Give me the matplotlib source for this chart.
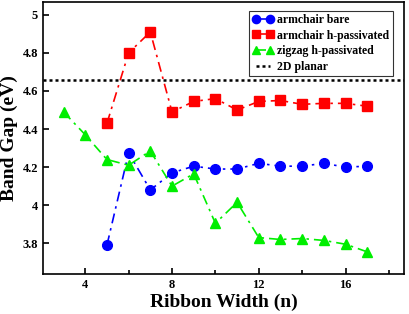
import matplotlib
matplotlib.use("Agg")
import matplotlib.pyplot as plt
from matplotlib.ticker import MultipleLocator

# 数据
n_armchair = [5, 6, 7, 8, 9, 10, 11, 12, 13, 14, 15, 16, 17]
armchair_bare = [3.79, 4.275, 4.08, 4.17, 4.205, 4.19, 4.19, 4.22, 4.205, 4.205, 4.22, 4.20, 4.205]
armchair_h = [4.43, 4.80, 4.91, 4.49, 4.545, 4.56, 4.50, 4.545, 4.55, 4.53, 4.535, 4.535, 4.52]
n_zigzag = [3, 4, 5, 6, 7, 8, 9, 10, 11, 12, 13, 14, 15, 16, 17]
zigzag_h = [4.49, 4.37, 4.24, 4.21, 4.285, 4.10, 4.165, 3.905, 4.015, 3.83, 3.82, 3.825, 3.815, 3.795, 3.755]
planar_gap = 4.66

plt.rcParams["font.family"] = ["Liberation Serif", "DejaVu Serif"]
plt.rcParams["font.weight"] = "bold"

fig = plt.figure(figsize=(4.09, 3.14), dpi=100)
ax = fig.add_axes([0.105, 0.127, 0.883, 0.867])

dashdot = (0, (6, 3, 1.5, 3))
ax.plot(n_armchair, armchair_bare, color="blue", marker="o", ms=7, lw=1.2,
        linestyle=dashdot, label="armchair bare")
ax.plot(n_armchair, armchair_h, color="red", marker="s", ms=6.5, lw=1.2,
        linestyle=dashdot, label="armchair h-passivated")
ax.plot(n_zigzag, zigzag_h, color="#00ee00", marker="^", ms=7, lw=1.2,
        linestyle=dashdot, label="zigzag h-passivated")
ax.axhline(planar_gap, color="black", linestyle=(0, (1.2, 1.2)), lw=1.8, label="2D planar")

ax.set_xlim(2.05, 18.7)
ax.set_ylim(3.638, 5.068)
ax.xaxis.set_minor_locator(MultipleLocator(2))
ax.set_xticks([4, 8, 12, 16])
ax.set_xticklabels(["4", "8", "12", "16"])
ax.set_yticks([3.8, 4.0, 4.2, 4.4, 4.6, 4.8, 5.0])
ax.set_yticklabels(["3.8", "4", "4.2", "4.4", "4.6", "4.8", "5"])
ax.tick_params(axis="both", which="major", labelsize=9, length=4, width=1.2, direction="in")
ax.tick_params(axis="x", which="minor", length=3, width=1.2, direction="in")
for spine in ax.spines.values():
    spine.set_linewidth(1.2)

ax.set_xlabel("Ribbon Width (n)", fontsize=14, fontweight="bold", labelpad=2)
ax.set_ylabel("Band Gap (eV)", fontsize=14, fontweight="bold", labelpad=3)

leg = ax.legend(loc="upper right", bbox_to_anchor=(0.985, 0.99), fontsize=8.5,
                frameon=True, fancybox=False, edgecolor="black",
                numpoints=2, handlelength=1.8, handletextpad=0.3, borderpad=0.3,
                labelspacing=0.3, markerscale=0.85)
leg.get_frame().set_linewidth(0.8)

fig.savefig("out.png", dpi=100)
